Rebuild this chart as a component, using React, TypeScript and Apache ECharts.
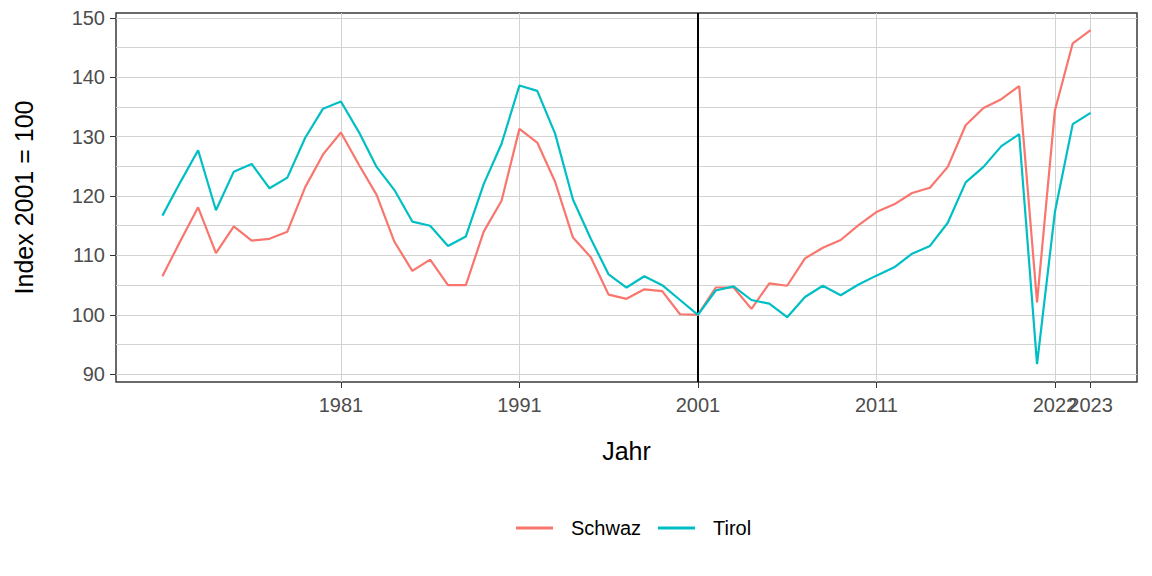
import React, { useEffect, useRef } from "react";
import * as echarts from "echarts";

const years = [
  1971, 1972, 1973, 1974, 1975, 1976, 1977, 1978, 1979, 1980,
  1981, 1982, 1983, 1984, 1985, 1986, 1987, 1988, 1989, 1990,
  1991, 1992, 1993, 1994, 1995, 1996, 1997, 1998, 1999, 2000,
  2001, 2002, 2003, 2004, 2005, 2006, 2007, 2008, 2009, 2010,
  2011, 2012, 2013, 2014, 2015, 2016, 2017, 2018, 2019, 2020,
  2021, 2022, 2023,
];

const schwaz = [
  106.5, 112.4, 118.1, 110.4, 114.9, 112.5, 112.8, 114.0, 121.5, 127.0,
  130.7, 125.3, 120.2, 112.3, 107.4, 109.3, 105.0, 105.0, 114.0, 119.2,
  131.3, 129.0, 122.4, 113.0, 109.7, 103.4, 102.7, 104.3, 104.0, 100.1,
  100.0, 104.6, 104.6, 101.0, 105.3, 104.9, 109.5, 111.3, 112.6, 115.1,
  117.3, 118.6, 120.5, 121.4, 124.9, 131.9, 134.8, 136.3, 138.5, 102.1,
  134.4, 145.7, 147.9,
];

const tirol = [
  116.7, 122.3, 127.7, 117.6, 124.1, 125.4, 121.3, 123.1, 129.8, 134.7,
  135.9, 130.8, 124.9, 121.0, 115.7, 115.0, 111.6, 113.2, 122.0, 128.8,
  138.6, 137.7, 130.5, 119.4, 112.8, 106.8, 104.6, 106.5, 105.0, 102.5,
  100.0, 104.1, 104.8, 102.5, 101.9, 99.6, 103.0, 104.9, 103.3, 105.1,
  106.6, 108.0, 110.3, 111.6, 115.5, 122.3, 124.9, 128.4, 130.4, 91.7,
  117.3, 132.1, 134.0,
];

const seriesNames = ["Schwaz", "Tirol"];
const seriesColors = ["#F8766D", "#00BFC4"];

// tick positions and their printed labels (the tick at 2021 is labelled "2022" in the original)
const xTickValues = [1981, 1991, 2001, 2011, 2021];
const xTickLabels = ["1981", "1991", "2001", "2011", "2022"];
const xExtraTickValues = [2023];
const xExtraTickLabels = ["2023"];
const yTickValues = [90, 100, 110, 120, 130, 140, 150];
const yMinorValues = [95, 105, 115, 125, 135, 145];
const referenceYear = 2001;

const FONT = "'Liberation Sans', Arial, sans-serif";

export default function App() {
  const ref = useRef<HTMLDivElement>(null);

  useEffect(() => {
    if (!ref.current) return;
    const chart = echarts.init(ref.current, undefined, { renderer: "svg" });
    const toPairs = (vals: number[]) => years.map((y, i) => [y, vals[i]]);
    const allSeries = [schwaz, tirol];

    const makeXAxis = (values: number[], labels: string[], withName: boolean) => ({
      type: "value",
      min: 1968.4,
      max: 2025.6,
      position: "bottom",
      offset: 0,
      name: withName ? "Jahr" : "",
      nameLocation: "middle",
      nameGap: 56,
      nameTextStyle: { fontSize: 25, color: "#000000", fontFamily: FONT },
      axisLine: { show: false },
      axisTick: {
        show: true,
        customValues: values,
        length: 6,
        lineStyle: { color: "#333333", width: 1 },
      },
      axisLabel: {
        customValues: values,
        hideOverlap: false,
        formatter: (v: number) => {
          const i = values.indexOf(v);
          return i >= 0 ? labels[i] : "";
        },
        fontSize: 20,
        color: "#4d4d4d",
        margin: 13,
        fontFamily: FONT,
      },
      splitLine: { show: true, lineStyle: { color: "#d3d3d3", width: 1 } },
    });

    const option: any = {
      animation: false,
      textStyle: { fontFamily: FONT },
      grid: {
        left: 116,
        right: 15,
        top: 13,
        bottom: 194,
        show: true,
        borderColor: "#3a3a3a",
        borderWidth: 1.5,
        backgroundColor: "transparent",
      },
      legend: {
        data: seriesNames,
        left: 511,
        top: 513,
        icon: "rect",
        itemWidth: 37,
        itemHeight: 3,
        itemGap: 17,
        textStyle: { fontSize: 20, color: "#000000", fontFamily: FONT, padding: [0, 0, 0, 13] },
      },
      xAxis: [
        makeXAxis(xTickValues, xTickLabels, true),
        makeXAxis(xExtraTickValues, xExtraTickLabels, false),
      ],
      yAxis: [
        {
          type: "value",
          min: 88.7,
          max: 150.8,
          name: "Index 2001 = 100",
          nameLocation: "middle",
          nameGap: 80,
          nameTextStyle: { fontSize: 25, color: "#000000", fontFamily: FONT },
          axisLine: { show: false },
          axisTick: {
            show: true,
            customValues: yTickValues,
            length: 6,
            lineStyle: { color: "#333333", width: 1 },
          },
          axisLabel: {
            customValues: yTickValues,
            fontSize: 20,
            color: "#4d4d4d",
            margin: 11,
            fontFamily: FONT,
          },
          splitLine: { show: true, lineStyle: { color: "#d3d3d3", width: 1 } },
        },
        {
          type: "value",
          min: 88.7,
          max: 150.8,
          position: "left",
          axisLine: { show: false },
          axisTick: { show: false, customValues: yMinorValues },
          axisLabel: { show: false, customValues: yMinorValues },
          splitLine: { show: true, lineStyle: { color: "#d3d3d3", width: 1 } },
        },
      ],
      series: seriesNames.map((name, k) => ({
        name,
        type: "line",
        xAxisIndex: 0,
        yAxisIndex: 0,
        data: toPairs(allSeries[k]),
        symbol: "none",
        color: seriesColors[k],
        lineStyle: { color: seriesColors[k], width: 2.2 },
        z: 3,
        markLine:
          k === seriesNames.length - 1
            ? {
                silent: true,
                symbol: ["none", "none"],
                label: { show: false },
                lineStyle: { color: "#000000", width: 2, type: "solid" },
                data: [{ xAxis: referenceYear }],
                z: 2,
              }
            : undefined,
      })),
    };

    chart.setOption(option);
    return () => chart.dispose();
  }, []);

  return (
    <div
      ref={ref}
      style={{ position: "fixed", left: 0, top: 0, width: 1152, height: 576, background: "#ffffff" }}
    />
  );
}
